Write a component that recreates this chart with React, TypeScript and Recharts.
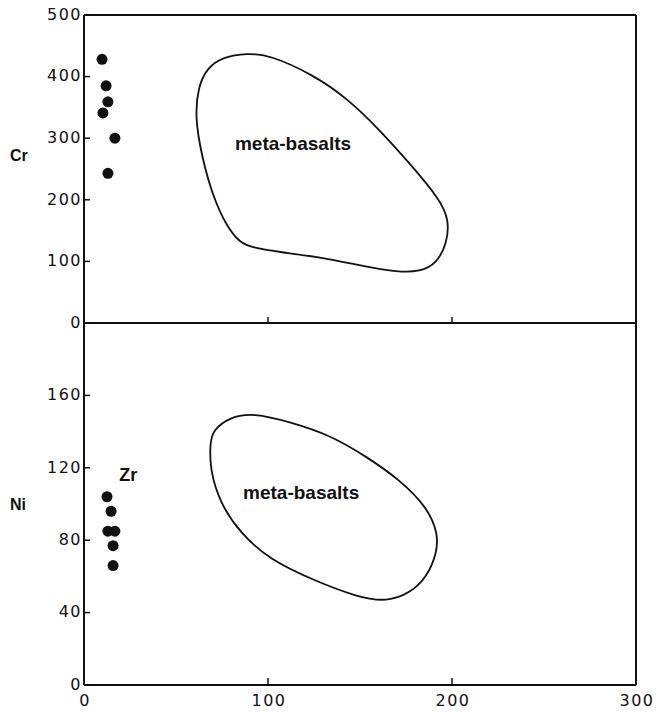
import React from 'react';
import { ScatterChart, Scatter, XAxis, YAxis, ReferenceLine, ReferenceDot } from 'recharts';

// Zr on the shared x axis
const X_TICKS = [0, 100, 200, 300];
const CR_TICKS = [0, 100, 200, 300, 400, 500];
const NI_TICKS = [0, 40, 80, 120, 160];

// samples (black dots)
const SAMPLE_ZR_TOP = [9.8, 12, 13, 10.3, 16.8, 13];
const SAMPLE_CR = [428, 385, 359, 341, 300, 243];
const SAMPLE_ZR_BOTTOM = [12.5, 14.7, 13, 16.8, 15.8, 15.8];
const SAMPLE_NI = [104, 96, 85, 85, 77, 66];

// meta-basalt field outlines
const FIELD_CR_ZR = [66.8, 75.5, 88.6, 101.1, 124.5, 143, 160.9, 178.8, 193.5, 198.4, 197.3, 191.8, 182.6, 170.1, 153.8, 128.3, 106.5, 91.8, 84.8, 77.7, 70.1, 64.1, 60.3, 62];
const FIELD_CR = [414, 432, 438, 435, 403, 365, 313, 253, 200, 167, 130, 97, 83, 83, 91, 107, 115, 122, 130, 156, 205, 269, 334, 383];
const FIELD_NI_ZR = [70.1, 79.3, 91.8, 112, 133.7, 153.8, 171.7, 186.4, 192.4, 191.8, 186.4, 177.2, 164.7, 148.4, 124.5, 101.1, 84.8, 73.9, 68.5, 68.5];
const FIELD_NI = [140.9, 148, 150.3, 145.3, 138.1, 126, 113.3, 98.3, 84, 72.9, 59.7, 50.8, 45.9, 48.6, 58, 69.1, 84, 100.6, 118.8, 133.7];

const zip = (xs: number[], ys: number[]) => xs.map((x, i) => ({ x, y: ys[i] }));

const crSamples = zip(SAMPLE_ZR_TOP, SAMPLE_CR);
const niSamples = zip(SAMPLE_ZR_BOTTOM, SAMPLE_NI);
const crField = zip(FIELD_CR_ZR, FIELD_CR);
const niField = zip(FIELD_NI_ZR, FIELD_NI);

const FONT = '"Liberation Sans", Arial, sans-serif';
const TICK_FONT = '"DejaVu Sans", "Liberation Sans", sans-serif';
const INK = '#111';

function Dot(props: any) {
  return <circle cx={props.cx} cy={props.cy} r={5.5} fill={INK} />;
}

const NoShape = () => <g />;

function YTick(props: any) {
  const { x, y, payload } = props;
  return (
    <g>
      <line x1={x} y1={y} x2={x + 6} y2={y} stroke={INK} strokeWidth={1.5} />
      <text x={x - 2} y={y - 1} dy="0.36em" textAnchor="end" fontFamily={TICK_FONT} fontSize={16} letterSpacing={1.5} fill={INK}>
        {payload.value}
      </text>
    </g>
  );
}

function XTickTop(props: any) {
  const { x, y, payload } = props;
  if (payload.value === 0 || payload.value === 300) return <g />;
  return <line x1={x} y1={y} x2={x} y2={y - 6} stroke={INK} strokeWidth={1.5} />;
}

function XTickBottom(props: any) {
  const { x, y, payload } = props;
  const inner = payload.value !== 0 && payload.value !== 300;
  return (
    <g>
      {inner && <line x1={x} y1={y} x2={x} y2={y - 7} stroke={INK} strokeWidth={1.5} />}
      <text x={x + 1} y={y + 9} dy="0.74em" textAnchor="middle" fontFamily={TICK_FONT} fontSize={16} letterSpacing={1.5} fill={INK}>
        {payload.value}
      </text>
    </g>
  );
}

function AxisTitle(props: any) {
  const vb = props.viewBox || { x: 0, y: 0, width: 0, height: 0 };
  return (
    <text
      x={vb.x + 10}
      y={vb.y + vb.height / 2 + (props.shift || 0)}
      dy="0.35em"
      fontFamily={FONT}
      fontSize={16}
      fontWeight="bold"
      fill={INK}
    >
      {props.text}
    </text>
  );
}

const noteStyle = { fontFamily: FONT, fontSize: 19, fontWeight: 'bold', fill: INK } as any;

export default function App() {
  return (
    <div style={{ position: 'absolute', left: 0, top: 0, width: 656, height: 713, background: '#fff' }}>
      <div style={{ position: 'absolute', left: 0, top: 0 }}>
        <ScatterChart width={656} height={340} margin={{ top: 15, right: 20, bottom: 0, left: 0 }}>
          <XAxis
            type="number"
            dataKey="x"
            domain={[0, 300]}
            ticks={X_TICKS}
            height={17}
            tickSize={0}
            tickMargin={0}
            tickLine={false}
            tick={<XTickTop />}
            axisLine={{ stroke: INK, strokeWidth: 2 }}
          />
          <YAxis
            type="number"
            dataKey="y"
            domain={[0, 500]}
            ticks={CR_TICKS}
            width={84}
            tickSize={0}
            tickMargin={0}
            tickLine={false}
            tick={<YTick />}
            axisLine={{ stroke: INK, strokeWidth: 2 }}
            label={<AxisTitle text="Cr" shift={-14} />}
          />
          <ReferenceLine y={500} stroke={INK} strokeWidth={2} />
          <ReferenceLine x={300} stroke={INK} strokeWidth={2} />
          <Scatter
            data={crField}
            shape={NoShape}
            line={{ stroke: INK, strokeWidth: 1.8 }}
            lineJointType="basisClosed"
            isAnimationActive={false}
          />
          <Scatter data={crSamples} shape={Dot} isAnimationActive={false} />
          <ReferenceDot x={113.6} y={292} r={0} fill="none" stroke="none" label={{ value: 'meta-basalts', position: 'center', style: noteStyle }} />
        </ScatterChart>
      </div>
      <div style={{ position: 'absolute', left: 0, top: 313 }}>
        <ScatterChart width={656} height={400} margin={{ top: 10, right: 20, bottom: 0, left: 0 }}>
          <XAxis
            type="number"
            dataKey="x"
            domain={[0, 300]}
            ticks={X_TICKS}
            height={28}
            tickSize={0}
            tickMargin={0}
            tickLine={false}
            tick={<XTickBottom />}
            axisLine={{ stroke: INK, strokeWidth: 2 }}
          />
          <YAxis
            type="number"
            dataKey="y"
            domain={[0, 200]}
            ticks={NI_TICKS}
            width={84}
            tickSize={0}
            tickMargin={0}
            tickLine={false}
            tick={<YTick />}
            axisLine={{ stroke: INK, strokeWidth: 2 }}
            label={<AxisTitle text="Ni" shift={0} />}
          />
          <ReferenceLine x={300} stroke={INK} strokeWidth={2} />
          <Scatter
            data={niField}
            shape={NoShape}
            line={{ stroke: INK, strokeWidth: 1.8 }}
            lineJointType="basisClosed"
            isAnimationActive={false}
          />
          <Scatter data={niSamples} shape={Dot} isAnimationActive={false} />
          <ReferenceDot x={118} y={106.6} r={0} fill="none" stroke="none" label={{ value: 'meta-basalts', position: 'center', style: noteStyle }} />
          <ReferenceDot x={24} y={116} r={0} fill="none" stroke="none" label={{ value: 'Zr', position: 'center', style: { ...noteStyle, fontSize: 18 } }} />
        </ScatterChart>
      </div>
    </div>
  );
}
